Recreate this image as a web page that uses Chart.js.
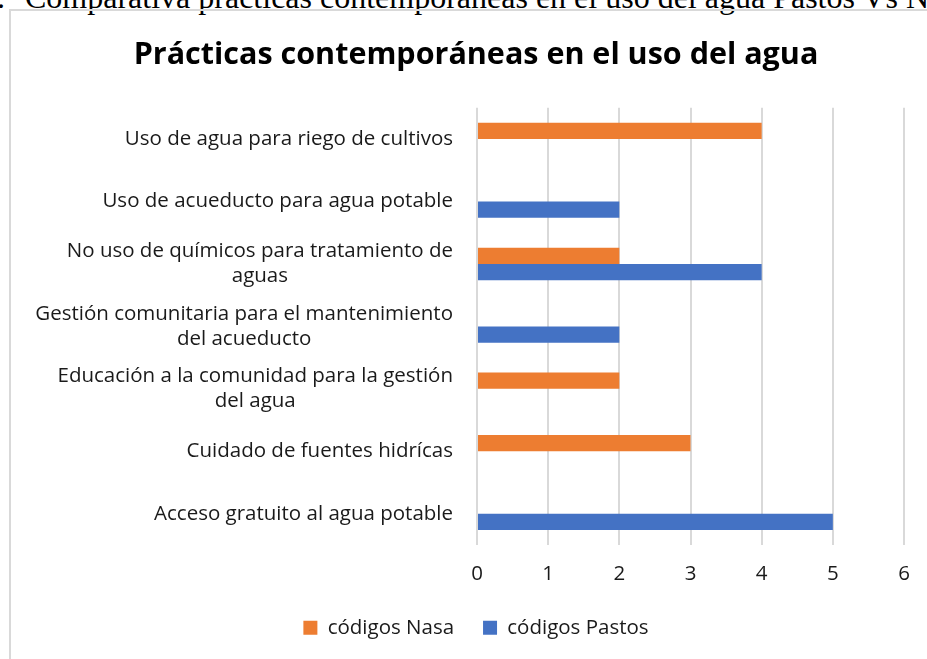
<!DOCTYPE html>
<html>
<head>
<meta charset="utf-8">
<script src="https://cdn.jsdelivr.net/npm/chart.js@4/dist/chart.umd.min.js"></script>
<style>
  body { margin: 0; background: #fff; overflow: hidden; }
  #caption {
    position: absolute; left: 25px; top: -18px; white-space: nowrap;
    font-family: "Liberation Serif", serif; font-size: 32px; line-height: 30px; color: #000;
  }
  #caption span { position: absolute; right: 100%; padding-right: 20px; }
  #frame {
    position: absolute; left: 9px; top: 9px; width: 1000px; height: 1000px;
    border: 2px solid #d9d9d9;
  }
  #myChart { position: absolute; left: 0; top: 0; }
</style>
</head>
<body>
<div id="caption"><span>Figura 4.</span>Comparativa prácticas contemporáneas en el uso del agua Pastos Vs Nasa</div>
<div id="frame"></div>
<canvas id="myChart" width="927" height="659"></canvas>
<script>
// categories, top to bottom
var categories = [
    "Uso de agua para riego de cultivos",
    "Uso de acueducto para agua potable",
    ["No uso de químicos para tratamiento de", "aguas"],
    ["Gestión comunitaria para el mantenimiento", "del acueducto"],
    ["Educación a la comunidad para la gestión", "del agua"],
    "Cuidado de fuentes hidrícas",
    "Acceso gratuito al agua potable"
];
var nasa = [4, 0, 2, 0, 2, 3, 0];
var pastos = [0, 2, 4, 2, 0, 0, 5];
var xTicks = [0, 1, 2, 3, 4, 5, 6];

var font = '"Open Sans", sans-serif';
var textColor = '#1a1a1a';
var fontSize = 20.5;

// labels of the category axis: right aligned block, lines centered inside it
var yLabels = {
    id: 'yLabels',
    afterDraw: function(chart) {
        var ctx = chart.ctx;
        var y = chart.scales.y;
        ctx.save();
        ctx.font = fontSize + 'px ' + font;
        ctx.fillStyle = textColor;
        ctx.textAlign = 'center';
        ctx.textBaseline = 'middle';
        categories.forEach(function(lab, i) {
            var lines = Array.isArray(lab) ? lab : [lab];
            var w = Math.max.apply(null, lines.map(function(l) { return ctx.measureText(l).width; }));
            var cx = y.right - 24 - w / 2;
            var cy = y.getPixelForValue(i);
            lines.forEach(function(l, k) {
                ctx.fillText(l, cx, cy + (k - (lines.length - 1) / 2) * 25);
            });
        });
        ctx.restore();
    }
};

var ctx = document.getElementById('myChart').getContext('2d');
var chart = new Chart(ctx, {
    type: 'bar',
    data: {
        labels: categories,
        datasets: [{
            label: 'códigos Nasa',
            backgroundColor: '#ED7D31',
            borderWidth: 0,
            data: nasa
        }, {
            label: 'códigos Pastos',
            backgroundColor: '#4472C4',
            borderWidth: 0,
            data: pastos
        }]
    },
    plugins: [yLabels],
    options: {
        responsive: false,
        animation: false,
        indexAxis: 'y',
        layout: { padding: { left: 48, right: 23, top: 0, bottom: 11 } },
        datasets: { bar: { categoryPercentage: 0.52, barPercentage: 1 } },
        scales: {
            x: {
                min: 0,
                max: 6,
                afterFit: function(s) { s.height = 43.5; },
                afterBuildTicks: function(s) { s.ticks = xTicks.map(function(v) { return { value: v }; }); },
                grid: { color: '#d9d9d9', lineWidth: 2, drawTicks: false },
                border: { display: false },
                ticks: { padding: 17, color: textColor, font: { family: font, size: fontSize } }
            },
            y: {
                afterFit: function(s) { s.width = 429; },
                grid: { display: false },
                border: { display: false },
                ticks: { display: false }
            }
        },
        plugins: {
            title: {
                display: true,
                text: 'Prácticas contemporáneas en el uso del agua',
                color: '#000',
                font: { family: font, size: 30.5, weight: 'bold' },
                padding: { top: 37.5, bottom: 33.7 }
            },
            legend: {
                position: 'bottom',
                labels: {
                    color: textColor,
                    boxWidth: 14,
                    boxHeight: 14,
                    padding: 29,
                    font: { family: font, size: fontSize }
                }
            },
            tooltip: { enabled: false }
        }
    }
});
</script>
</body>
</html>
